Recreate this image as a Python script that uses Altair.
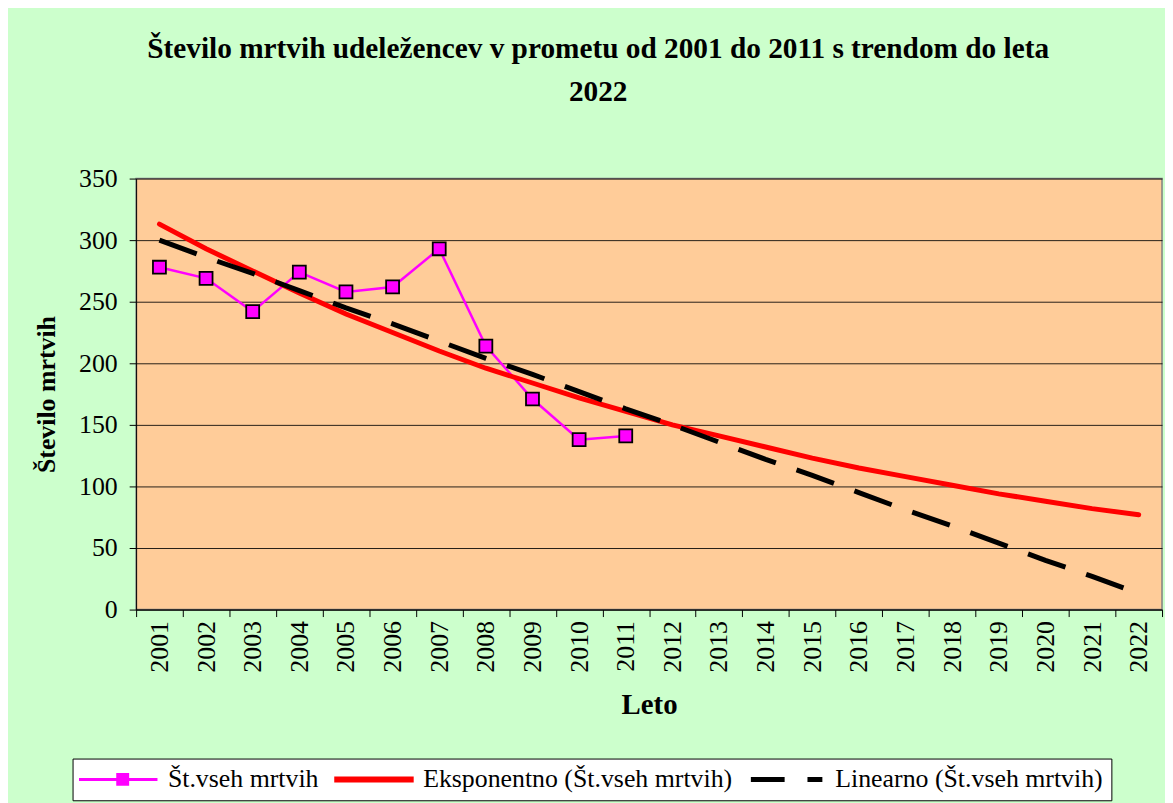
import altair as alt
import pandas as pd

years = ["2001", "2002", "2003", "2004", "2005", "2006", "2007", "2008", "2009", "2010", "2011",
         "2012", "2013", "2014", "2015", "2016", "2017", "2018", "2019", "2020", "2021", "2022"]
actual = [278, 269, 242, 274, 258, 262, 293, 214, 171, 138, 141]
exp_trend = [313, 293, 275, 257, 240, 225, 210, 196, 184, 172, 161,
             150, 141, 132, 123, 115, 108, 101, 94, 88, 82, 77]
lin_trend = [300, 286, 273, 259, 245, 232, 218, 204, 191, 177, 163,
             150, 136, 122, 109, 95, 81, 68, 54, 40, 27, 13]
y_ticks = [0, 50, 100, 150, 200, 250, 300, 350]

S1 = "Št.vseh mrtvih"
S2 = "Eksponentno (Št.vseh mrtvih)"
S3 = "Linearno (Št.vseh mrtvih)"
series_names = [S1, S2, S3]
series_colors = ["#FF00FF", "#FF0000", "#000000"]

title_lines = ["Število mrtvih udeležencev v prometu od 2001 do 2011 s trendom do leta", "2022"]

rows = []
for i, yr in enumerate(years):
    if i < len(actual):
        rows.append({"year": yr, "value": actual[i], "series": S1})
    rows.append({"year": yr, "value": exp_trend[i], "series": S2})
    rows.append({"year": yr, "value": lin_trend[i], "series": S3})
df = pd.DataFrame(rows)

legend_df = pd.DataFrame({"series": series_names, "year": [years[0]] * 3, "value": [None] * 3})

FONT = "Liberation Serif"

x_enc = alt.X(
    "year:O",
    bandPosition=0.5,
    scale=alt.Scale(type="band", domain=years, paddingInner=0, paddingOuter=0),
    axis=alt.Axis(
        title="Leto", titleFont=FONT, titleFontSize=29, titleFontWeight="bold", titleColor="black",
        titleY=96, titleBaseline="middle",
        labelFont=FONT, labelFontSize=26, labelColor="black", labelAngle=-90,
        labelAlign="right", labelBaseline="middle", labelPadding=4,
        tickBand="extent", tickSize=7, tickColor="black", domainColor="black",
        grid=False, labelOverlap=False,
    ),
)
y_enc = alt.Y(
    "value:Q",
    scale=alt.Scale(domain=[0, 350], nice=False, zero=True),
    axis=alt.Axis(
        title="Število mrtvih", titleFont=FONT, titleFontSize=26, titleFontWeight="bold",
        titleColor="black", titleX=-90, titleY=217, titleAngle=-90, titleAlign="center",
        titleBaseline="middle",
        values=y_ticks, labelFont=FONT, labelFontSize=26, labelColor="black", labelPadding=12,
        tickSize=7, tickColor="black", domainColor="black",
        grid=True, gridColor="#000000", gridWidth=1, gridOpacity=0.85,
    ),
)

base = alt.Chart(df)

line_actual = base.transform_filter(alt.datum.series == S1).mark_line(
    color="#FF00FF", strokeWidth=2.5).encode(x=x_enc, y=y_enc)
line_exp = base.transform_filter(alt.datum.series == S2).mark_line(
    color="#FF0000", strokeWidth=5, strokeCap="round").encode(x=x_enc, y=y_enc)
line_lin = base.transform_filter(alt.datum.series == S3).mark_line(
    color="#000000", strokeWidth=5, strokeDash=[40, 22]).encode(x=x_enc, y=y_enc)
points = base.transform_filter(alt.datum.series == S1).mark_point(
    shape="square", filled=True, fill="#FF00FF", stroke="#000000", strokeWidth=1.8,
    size=170, opacity=1).encode(x=x_enc, y=y_enc)

# legend glyphs (unit = 10px), drawn to the right of the symbol anchor
p1 = "M-1.45,-0.15H2.3V-0.65H3.6V-0.15H6.45V0.15H3.6V0.65H2.3V0.15H-1.45Z"
p2 = "M-1.45,-0.3H6.55V0.3H-1.45Z"
p3 = "M-1.0,-0.25H2.4V0.25H-1.0Z M4.7,-0.25H6.2V0.25H4.7Z"

leg = alt.Legend(
    orient="none", legendX=-64, legendY=584, direction="horizontal", title=None,
    fillColor="white", strokeColor="black", padding=8,
    labelFont=FONT, labelFontSize=26, labelColor="black", labelLimit=1000,
    symbolSize=400, symbolStrokeWidth=0, symbolOpacity=1, labelOffset=62, columnPadding=15,
)

legend_layer = alt.Chart(legend_df).mark_point(filled=True, invalid="filter").encode(
    x=x_enc, y=y_enc,
    color=alt.Color("series:N", scale=alt.Scale(domain=series_names, range=series_colors), legend=leg),
    shape=alt.Shape("series:N", scale=alt.Scale(domain=series_names, range=[p1, p2, p3]), legend=leg),
)

chart = alt.layer(line_actual, line_exp, line_lin, points, legend_layer).properties(
    width=1033, height=434,
    autosize=alt.AutoSizeParams(type="none"),
    padding={"left": 129, "top": 169, "right": 3, "bottom": 192},
    background="#CCFFCC",
    title=alt.TitleParams(
        text=title_lines, font=FONT, fontSize=29.5, fontWeight="bold", color="black",
        anchor="middle", frame="bounds", offset=59, lineHeight=43,
    ),
).configure_view(fill="#FFCC99", stroke="#808080", strokeWidth=1.5)

chart.save("out.html", embed_options={"renderer": "svg", "actions": False})
